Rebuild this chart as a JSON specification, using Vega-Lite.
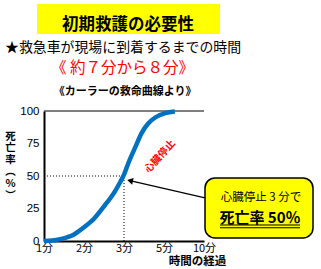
{
  "$schema": "https://vega.github.io/schema/vega-lite/v6.json",
  "width": 160,
  "height": 130,
  "autosize": {"type": "none"},
  "padding": {"left": 44, "top": 111, "right": 117, "bottom": 28},
  "background": "white",
  "config": {
    "view": {"stroke": null},
    "axis": {"labelOverlap": false, "labelFlush": false, "ticks": false, "grid": false}
  },
  "layer": [
    {
      "data": {"values": [{}]},
      "mark": {"type": "rect", "fill": "#FFFF00"},
      "encoding": {
        "x": {"datum": -0.175, "type": "quantitative"},
        "x2": {"datum": 4.4},
        "y": {"datum": 182.3, "type": "quantitative"},
        "y2": {"datum": 159.2}
      }
    },
    {
      "data": {"values": [{"label": "初期救護の必要性"}]},
      "mark": {"type": "text", "font": "Noto Sans CJK JP", "fontSize": 16.5, "fontWeight": "bold", "color": "#000", "align": "center", "baseline": "middle"},
      "encoding": {
        "x": {"datum": 2.1, "type": "quantitative"},
        "y": {"datum": 166.2, "type": "quantitative"},
        "text": {"field": "label"}
      }
    },
    {
      "data": {"values": [{"label": "★救急車が現場に到着するまでの時間"}]},
      "mark": {"type": "text", "font": "Noto Sans CJK JP", "fontSize": 13.9, "color": "#000", "align": "left", "baseline": "middle"},
      "encoding": {
        "x": {"datum": -0.975, "type": "quantitative"},
        "y": {"datum": 148.1, "type": "quantitative"},
        "text": {"field": "label"}
      }
    },
    {
      "data": {"values": [{"label": "《 約７分から８分》"}]},
      "mark": {"type": "text", "font": "Noto Sans CJK JP", "fontSize": 15.5, "color": "#FF0000", "align": "center", "baseline": "middle"},
      "encoding": {
        "x": {"datum": 1.96, "type": "quantitative"},
        "y": {"datum": 132.7, "type": "quantitative"},
        "text": {"field": "label"}
      }
    },
    {
      "data": {"values": [{"label": "《カーラーの救命曲線より》"}]},
      "mark": {"type": "text", "font": "Noto Sans CJK JP", "fontSize": 11, "fontWeight": "bold", "color": "#000", "align": "center", "baseline": "middle"},
      "encoding": {
        "x": {"datum": 2.03, "type": "quantitative"},
        "y": {"datum": 114.6, "type": "quantitative"},
        "text": {"field": "label"}
      }
    },
    {
      "data": {"values": [{}]},
      "mark": {"type": "rule", "color": "#000", "strokeWidth": 1},
      "encoding": {
        "x": {"datum": 0, "type": "quantitative"},
        "x2": {"datum": 4},
        "y": {"datum": 100, "type": "quantitative"}
      }
    },
    {
      "data": {"values": [{}]},
      "mark": {"type": "rule", "color": "#000", "strokeWidth": 1, "strokeDash": [1, 2]},
      "encoding": {
        "x": {"datum": 0, "type": "quantitative"},
        "x2": {"datum": 2},
        "y": {"datum": 50, "type": "quantitative"}
      }
    },
    {
      "data": {"values": [{}]},
      "mark": {"type": "rule", "color": "#000", "strokeWidth": 1, "strokeDash": [1, 2]},
      "encoding": {
        "x": {"datum": 2, "type": "quantitative"},
        "y": {"datum": 0, "type": "quantitative"},
        "y2": {"datum": 50}
      }
    },
    {
      "data": {"values": [
        {"t": 0, "rate": 0},
        {"t": 0.2, "rate": 0.3},
        {"t": 0.41, "rate": 1.4},
        {"t": 0.75, "rate": 5},
        {"t": 1.0, "rate": 10.5},
        {"t": 1.26, "rate": 17.5},
        {"t": 1.51, "rate": 27},
        {"t": 1.77, "rate": 38},
        {"t": 1.9, "rate": 45},
        {"t": 2.0, "rate": 51},
        {"t": 2.11, "rate": 60},
        {"t": 2.28, "rate": 72},
        {"t": 2.44, "rate": 83},
        {"t": 2.61, "rate": 90.5},
        {"t": 2.78, "rate": 95},
        {"t": 3.03, "rate": 98.3},
        {"t": 3.27, "rate": 99.6}
      ]},
      "mark": {"type": "line", "interpolate": "monotone", "color": "#0070C0", "strokeWidth": 4.5, "strokeCap": "butt"},
      "encoding": {
        "x": {
          "field": "t", "type": "quantitative",
          "scale": {"domain": [0, 4], "nice": false, "zero": false},
          "axis": {
            "values": [0, 1, 2, 3, 4],
            "tickCount": 10,
            "labelExpr": "datum.value == 0 ? '1分' : datum.value == 1 ? '2分' : datum.value == 2 ? '3分' : datum.value == 3 ? '5分' : '10分'",
            "ticks": false, "grid": false,
            "domainColor": "#000", "domainWidth": 2,
            "labelFont": "Noto Sans CJK JP", "labelFontSize": 11, "labelColor": "#000", "labelPadding": 1,
            "labelFlush": false, "labelOverlap": false,
            "title": "時間の経過",
            "titleFont": "Noto Sans CJK JP", "titleFontSize": 11.5, "titleFontWeight": "bold", "titleColor": "#000",
            "titleX": 153, "titleY": 20, "titleAlign": "center", "titleBaseline": "middle"
          }
        },
        "y": {
          "field": "rate", "type": "quantitative",
          "scale": {"domain": [0, 100], "nice": false, "zero": false},
          "axis": {
            "values": [0, 25, 50, 75, 100],
            "tickCount": 10,
            "ticks": false, "grid": false,
            "domainColor": "#000", "domainWidth": 2,
            "labelFont": "Liberation Sans", "labelFontSize": 11.5, "labelColor": "#000", "labelPadding": 5,
            "labelOverlap": false,
            "title": ["死", "亡", "率", "︵", "%", "︶"],
            "titleAngle": 0,
            "titleFont": "Noto Sans CJK JP", "titleFontSize": 10.5, "titleFontWeight": "bold", "titleColor": "#000",
            "titleLineHeight": 11.8,
            "titleX": -34, "titleY": 20, "titleAlign": "center", "titleBaseline": "top"
          }
        }
      }
    },
    {
      "data": {"values": [{"label": "心臓停止"}]},
      "mark": {"type": "text", "font": "Noto Sans CJK JP", "fontSize": 10, "fontWeight": "bold", "color": "#FF0000", "align": "center", "baseline": "middle", "angle": 312},
      "encoding": {
        "x": {"datum": 2.9, "type": "quantitative"},
        "y": {"datum": 65, "type": "quantitative"},
        "text": {"field": "label"}
      }
    },
    {
      "data": {"values": [{}]},
      "mark": {"type": "rule", "color": "#000", "strokeWidth": 1.3},
      "encoding": {
        "x": {"datum": 4.025, "type": "quantitative"},
        "x2": {"datum": 2.175},
        "y": {"datum": 33.1, "type": "quantitative"},
        "y2": {"datum": 46.2}
      }
    },
    {
      "data": {"values": [{}]},
      "mark": {"type": "point", "shape": "triangle", "filled": true, "color": "#000", "size": 45, "angle": 283, "opacity": 1},
      "encoding": {
        "x": {"datum": 2.175, "type": "quantitative"},
        "y": {"datum": 46.2, "type": "quantitative"}
      }
    },
    {
      "data": {"values": [{}]},
      "mark": {"type": "rect", "fill": "#FFFF00", "stroke": "#000", "strokeWidth": 1.5, "cornerRadius": 10},
      "encoding": {
        "x": {"datum": 4.025, "type": "quantitative"},
        "x2": {"datum": 6.725},
        "y": {"datum": 48.5, "type": "quantitative"},
        "y2": {"datum": 2.3}
      }
    },
    {
      "data": {"values": [{"label": "心臓停止 3 分で"}]},
      "mark": {"type": "text", "font": "Noto Sans CJK JP", "fontSize": 11.5, "color": "#000", "align": "center", "baseline": "middle"},
      "encoding": {
        "x": {"datum": 5.425, "type": "quantitative"},
        "y": {"datum": 33.1, "type": "quantitative"},
        "text": {"field": "label"}
      }
    },
    {
      "data": {"values": [{"label": "死亡率 50％"}]},
      "mark": {"type": "text", "font": "Noto Sans CJK JP", "fontSize": 15, "fontWeight": "bold", "color": "#000", "align": "center", "baseline": "middle"},
      "encoding": {
        "x": {"datum": 5.4, "type": "quantitative"},
        "y": {"datum": 17.7, "type": "quantitative"},
        "text": {"field": "label"}
      }
    },
    {
      "data": {"values": [{"u": 12.3}, {"u": 10.2}]},
      "mark": {"type": "rule", "color": "#000", "strokeWidth": 1.2},
      "encoding": {
        "x": {"datum": 4.4, "type": "quantitative"},
        "x2": {"datum": 6.4},
        "y": {"field": "u", "type": "quantitative"}
      }
    }
  ]
}
